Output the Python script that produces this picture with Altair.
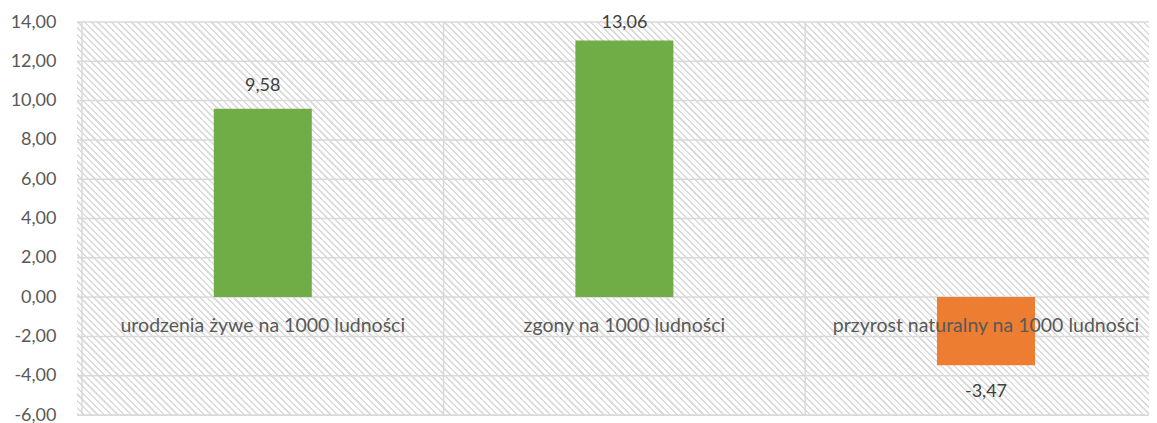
import altair as alt
import pandas as pd

categories = [
    "urodzenia żywe na 1000 ludności",
    "zgony na 1000 ludności",
    "przyrost naturalny na 1000 ludności",
]
values = [9.58, 13.06, -3.47]
y_ticks = [-6, -4, -2, 0, 2, 4, 6, 8, 10, 12, 14]

df = pd.DataFrame({"cat": categories, "value": values, "idx": list(range(len(categories)))})
ticks_df = pd.DataFrame({"tick": y_ticks})

FONT = "Lato"
PLOT_W = 1072
PLOT_H = 393
STEP = 365  # pixel width of one category slot (the third slot is cut at the right edge)
GRID = "#d9d9d9"

# diagonal hatch emulated with a linear gradient (stripes going down-right)
ratio = PLOT_H / PLOT_W
g_len = (1 + ratio) / (1 + ratio * ratio)
span = (PLOT_W + PLOT_H) / 2 ** 0.5
period = 4.7
n = int(span / period)
frac = 0.3
stripe = "#dcdcdc"
stops = []
for i in range(n):
    a = i / n
    b = (i + frac) / n
    c = (i + frac + 0.05) / n
    stops += [
        {"offset": a, "color": stripe},
        {"offset": b, "color": stripe},
        {"offset": min(c, 1.0), "color": "#ffffff"},
        {"offset": min((i + 0.95) / n, 1.0), "color": "#ffffff"},
    ]
hatch = alt.Gradient(
    gradient="linear",
    x1=0, y1=1, x2=g_len, y2=1 - ratio * g_len,
    stops=stops,
)

xscale = alt.Scale(domain=[0, PLOT_W / STEP], nice=False, zero=False)
yscale = alt.Scale(domain=[-6, 14], nice=False, zero=False)

yaxis = alt.Axis(
    title=None, values=y_ticks, ticks=False, domain=False, grid=False,
    labelOverlap=False,
    labelExpr="replace(replace(format(datum.value, '.2f'), '.', ','), '\u2212', '-')",
    labelFont=FONT, labelFontSize=18, labelColor="#595959", labelPadding=21,
)
xaxis = alt.Axis(title=None, labels=False, ticks=False, domain=False, grid=False)

base = alt.Chart(df).transform_calculate(pos="datum.idx + 0.5")

background = base.mark_rect(fill=hatch, stroke=None).encode(
    x=alt.value(0), x2=alt.value(PLOT_W), y=alt.value(0), y2=alt.value(PLOT_H)
).transform_filter(alt.datum.idx == 0)

hgrid = alt.Chart(ticks_df).mark_rule(color=GRID, strokeWidth=1.5).encode(
    y=alt.Y("tick:Q", scale=yscale, axis=yaxis),
)

vgrid = base.mark_rule(color=GRID, strokeWidth=1.5).encode(
    x=alt.X("idx:Q", scale=xscale, axis=xaxis),
)

bars = base.mark_bar(width=98).encode(
    x=alt.X("pos:Q", scale=xscale, axis=xaxis),
    y=alt.Y("value:Q", scale=yscale, axis=yaxis),
    y2=alt.datum(0),
    color=alt.condition("datum.value >= 0", alt.value("#70AD47"), alt.value("#ED7D31")),
)

val_labels = base.transform_calculate(
    label="replace(replace(format(datum.value, '.2f'), '.', ','), '\u2212', '-')",
    ly="datum.value >= 0 ? min(datum.value + 1.17, 13.95) : datum.value - 1.37",
).mark_text(
    font=FONT, fontSize=18, color="#404040", baseline="middle"
).encode(
    x=alt.X("pos:Q", scale=xscale, axis=xaxis),
    y=alt.Y("ly:Q", scale=yscale, axis=yaxis),
    text="label:N",
)

cat_labels = base.mark_text(
    font=FONT, fontSize=19.5, color="#595959", baseline="middle", dy=29
).encode(
    x=alt.X("pos:Q", scale=xscale, axis=xaxis),
    y=alt.datum(0, scale=yscale, axis=yaxis),
    text="cat:N",
)

chart = alt.layer(background, hgrid, vgrid, bars, cat_labels, val_labels).properties(
    width=PLOT_W,
    height=PLOT_H,
    autosize=alt.AutoSizeParams(type="none"),
    padding={"left": 69, "top": 14, "right": 0, "bottom": 8},
).configure_view(stroke=None).configure(background="#ffffff")

chart.save("out.html", embed_options={"renderer": "svg", "actions": False})
